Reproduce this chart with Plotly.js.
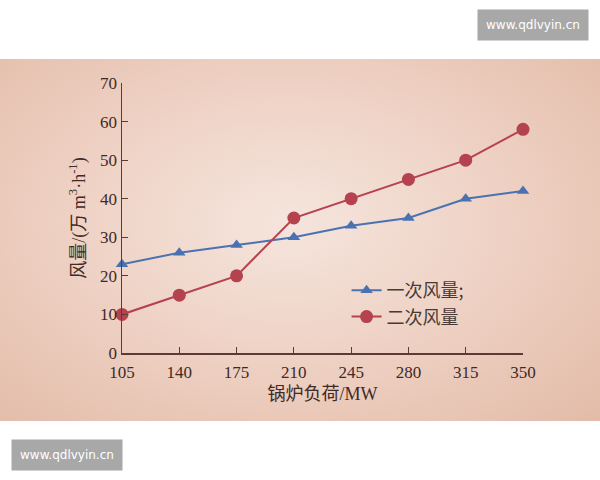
<!DOCTYPE html>
<html>
<head>
<meta charset="utf-8">
<script src="https://cdn.plot.ly/plotly-3.0.1.min.js"></script>
<style>
  html, body { margin: 0; padding: 0; background: #ffffff; }
  #wrap { position: relative; width: 600px; height: 480px; }
  #band {
    position: absolute; left: 0; top: 59px; width: 600px; height: 362px;
    background: radial-gradient(ellipse at 48% 45%, #f5e5dd 0%, #efd3c6 45%, #e3bba8 100%);
  }
  #chart { position: absolute; left: 0; top: 0; width: 600px; height: 480px; }
</style>
</head>
<body>
<div id="wrap">
  <div id="band"></div>
  <div id="chart"></div>
</div>
<script>
// boiler load (MW)
const loads = [105, 140, 175, 210, 245, 280, 315, 350];
// primary air volume
const primaryAir = [23, 26, 28, 30, 33, 35, 40, 42];
// secondary air volume
const secondaryAir = [10, 15, 20, 35, 40, 45, 50, 58];

const axisColor = '#5b3b33';
const textColor = '#3f2a25';
const serif = '"Liberation Serif", "Times New Roman", "Noto Sans CJK SC", serif';

const traces = [
    {
        x: loads, y: primaryAir,
        type: 'scatter', mode: 'lines+markers',
        name: '一次风量;',
        line: { color: '#4a72b2', width: 2 },
        marker: { symbol: 'triangle-up', size: 11, color: '#4a72b2' },
        cliponaxis: false
    },
    {
        x: loads, y: secondaryAir,
        type: 'scatter', mode: 'lines+markers',
        name: '二次风量',
        line: { color: '#b4424f', width: 2 },
        marker: { symbol: 'circle', size: 13, color: '#b4424f' },
        cliponaxis: false
    }
];

const layout = {
    width: 600, height: 480,
    paper_bgcolor: 'rgba(0,0,0,0)',
    plot_bgcolor: 'rgba(0,0,0,0)',
    font: { family: serif, color: textColor, size: 17 },
    margin: { l: 122, r: 77, t: 83, b: 127 },
    xaxis: {
        range: [105, 350],
        tickvals: loads,
        ticktext: loads.map(String),
        showline: true, linecolor: axisColor, linewidth: 1.5,
        ticks: 'inside', ticklen: 6, tickcolor: axisColor,
        ticklabelstandoff: 3,
        showgrid: false, zeroline: false,
        title: { text: '锅炉负荷/MW', font: { size: 18 }, standoff: 6 }
    },
    yaxis: {
        range: [0, 70], dtick: 10,
        showline: true, linecolor: axisColor, linewidth: 1.5,
        ticks: 'inside', ticklen: 6, tickcolor: axisColor,
        showgrid: false, zeroline: false,
        title: { text: '风量/(万 m<sup>3</sup>·h<sup>-1</sup>)', font: { size: 18 }, standoff: 10 }
    },
    showlegend: true,
    legend: {
        x: 0.56, y: 0.30, xanchor: 'left', yanchor: 'top',
        bgcolor: 'rgba(0,0,0,0)',
        font: { size: 18, color: '#4a3a35', family: '"Noto Sans CJK SC", sans-serif' },
        itemwidth: 30
    },
    annotations: [
        {
            xref: 'paper', yref: 'paper', x: (533 - 122) / 401, y: (353 - 25) / 270,
            xanchor: 'center', yanchor: 'middle', showarrow: false,
            text: 'www.qdlvyin.cn', bgcolor: '#a8a8a8', borderpad: 8,
            font: { family: '"DejaVu Sans", sans-serif', size: 12, color: '#ffffff' }
        },
        {
            xref: 'paper', yref: 'paper', x: (67 - 122) / 401, y: (353 - 455) / 270,
            xanchor: 'center', yanchor: 'middle', showarrow: false,
            text: 'www.qdlvyin.cn', bgcolor: '#a8a8a8', borderpad: 8,
            font: { family: '"DejaVu Sans", sans-serif', size: 12, color: '#ffffff' }
        }
    ]
};

Plotly.newPlot('chart', traces, layout, { displayModeBar: false, staticPlot: true });
</script>
</body>
</html>
